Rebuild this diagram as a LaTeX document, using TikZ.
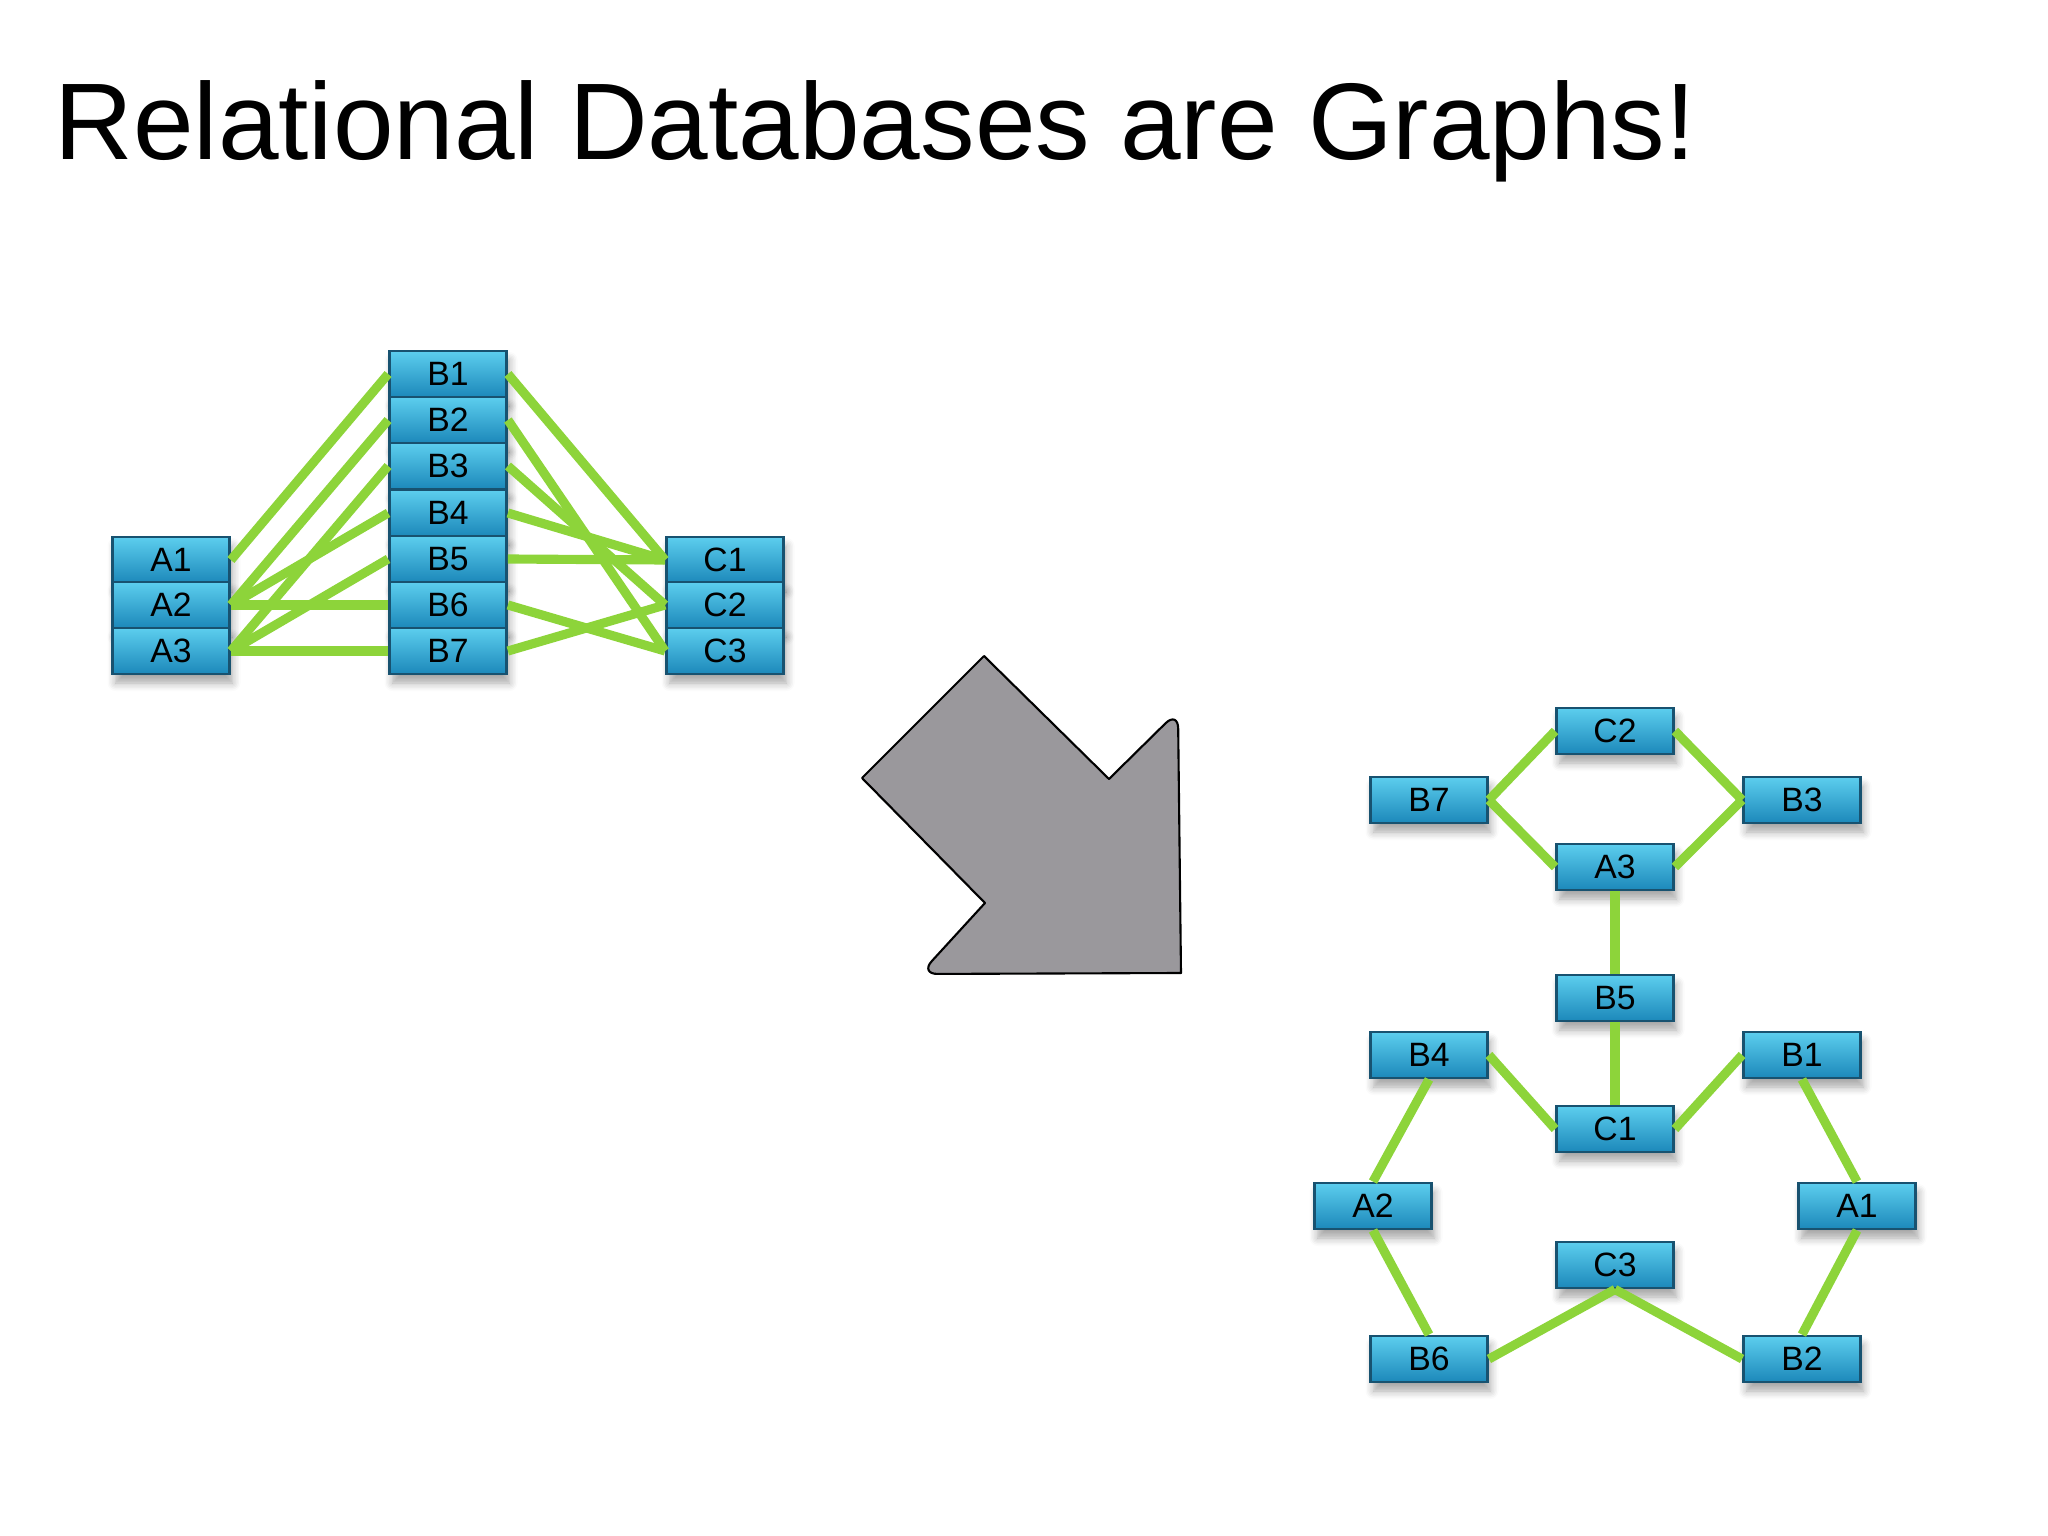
\documentclass[tikz,border=0pt]{standalone}
\usepackage{fontspec}
\setmainfont{Liberation Sans}
\usetikzlibrary{shadows.blur}

\definecolor{boxtop}{RGB}{92,206,238}
\definecolor{boxbot}{RGB}{28,136,186}
\definecolor{boxline}{RGB}{24,82,112}
\definecolor{linkgreen}{RGB}{141,212,58}
\definecolor{arrowgray}{RGB}{154,152,156}

\begin{document}
\begin{tikzpicture}[
    tbl/.style={rectangle, draw=boxline, line width=0.8pt, top color=boxtop, bottom color=boxbot,
                minimum width=1.17cm, minimum height=0.46cm, inner sep=0pt,
                font=\fontsize{9.6}{10}\selectfont,
                blur shadow={shadow xshift=0.03cm, shadow yshift=-0.09cm, shadow opacity=35,
                             shadow blur radius=0.08cm, shadow blur steps=6}},
    link/.style={draw=linkgreen, line width=2.6pt},
]
  \useasboundingbox (0,0) rectangle (20.48,-15.36);

  \node [anchor=base west, inner sep=0pt, font=\fontsize{31}{36}\selectfont] (title) at (0.54,-1.60)
        {Relational Databases are Graphs!};

  % tables
  \node [tbl] (a1) at (1.71,-5.60) {A1};
  \node [tbl] (a2) at (1.71,-6.05) {A2};
  \node [tbl] (a3) at (1.71,-6.51) {A3};
  \node [tbl] (b1) at (4.48,-3.74) {B1};
  \node [tbl] (b2) at (4.48,-4.20) {B2};
  \node [tbl] (b3) at (4.48,-4.66) {B3};
  \node [tbl] (b4) at (4.48,-5.13) {B4};
  \node [tbl] (b5) at (4.48,-5.59) {B5};
  \node [tbl] (b6) at (4.48,-6.05) {B6};
  \node [tbl] (b7) at (4.48,-6.51) {B7};
  \node [tbl] (c1) at (7.25,-5.60) {C1};
  \node [tbl] (c2) at (7.25,-6.05) {C2};
  \node [tbl] (c3) at (7.25,-6.51) {C3};

  \draw [link] (a1.east) -- (b1.west);
  \draw [link] (a2.east) -- (b2.west);
  \draw [link] (a2.east) -- (b4.west);
  \draw [link] (a2.east) -- (b6.west);
  \draw [link] (a3.east) -- (b3.west);
  \draw [link] (a3.east) -- (b5.west);
  \draw [link] (a3.east) -- (b7.west);
  \draw [link] (b1.east) -- (c1.west);
  \draw [link] (b2.east) -- (c3.west);
  \draw [link] (b3.east) -- (c2.west);
  \draw [link] (b4.east) -- (c1.west);
  \draw [link] (b5.east) -- (c1.west);
  \draw [link] (b6.east) -- (c3.west);
  \draw [link] (b7.east) -- (c2.west);

  % arrow
  \draw [fill=arrowgray, line width=0.6pt, line join=round]
        (9.84,-6.56) -- (11.09,-7.79) [rounded corners=5pt] -- (11.78,-7.11) [sharp corners]
        -- (11.81,-9.73) [rounded corners=5pt] -- (9.20,-9.74) [sharp corners]
        -- (9.85,-9.03) -- (8.62,-7.78) -- cycle;

  % graph
  \node [tbl] (rc2) at (16.15,-7.31) {C2};
  \node [tbl] (rb7) at (14.29,-8.00) {B7};
  \node [tbl] (rb3) at (18.02,-8.00) {B3};
  \node [tbl] (ra3) at (16.15,-8.67) {A3};
  \node [tbl] (rb5) at (16.15,-9.98) {B5};
  \node [tbl] (rb4) at (14.29,-10.55) {B4};
  \node [tbl] (rb1) at (18.02,-10.55) {B1};
  \node [tbl] (rc1) at (16.15,-11.29) {C1};
  \node [tbl] (ra2) at (13.73,-12.06) {A2};
  \node [tbl] (ra1) at (18.57,-12.06) {A1};
  \node [tbl] (rc3) at (16.15,-12.65) {C3};
  \node [tbl] (rb6) at (14.29,-13.59) {B6};
  \node [tbl] (rb2) at (18.02,-13.59) {B2};

  \draw [link] (rc2.west) -- (rb7.east);
  \draw [link] (rc2.east) -- (rb3.west);
  \draw [link] (rb7.east) -- (ra3.west);
  \draw [link] (rb3.west) -- (ra3.east);
  \draw [link] (ra3.south) -- (rb5.north);
  \draw [link] (rb5.south) -- (rc1.north);
  \draw [link] (rb4.east) -- (rc1.west);
  \draw [link] (rb1.west) -- (rc1.east);
  \draw [link] (rb4.south) -- (ra2.north);
  \draw [link] (rb1.south) -- (ra1.north);
  \draw [link] (ra2.south) -- (rb6.north);
  \draw [link] (ra1.south) -- (rb2.north);
  \draw [link] (rc3.south) -- (rb6.east);
  \draw [link] (rc3.south) -- (rb2.west);
\end{tikzpicture}
\end{document}
